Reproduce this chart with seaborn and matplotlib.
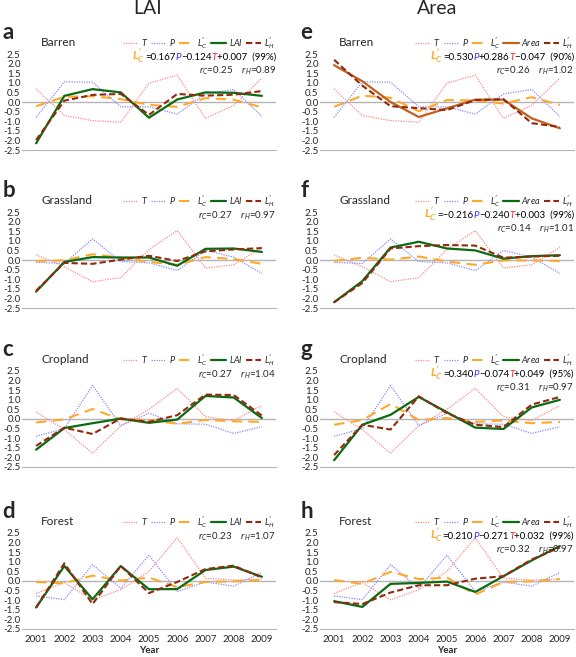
import numpy as np
import matplotlib
matplotlib.use('Agg')
import matplotlib.pyplot as plt
import seaborn as sns

sns.set_style('white')
plt.rcParams['font.family'] = ['Lato', 'DejaVu Sans']
plt.rcParams['mathtext.fontset'] = 'custom'
plt.rcParams['mathtext.rm'] = 'Lato'
plt.rcParams['mathtext.it'] = 'Lato:italic'
plt.rcParams['mathtext.bf'] = 'Lato:bold:italic'

# years on the x axis
years = [2001, 2002, 2003, 2004, 2005, 2006, 2007, 2008, 2009]

# climate series (same in both columns)
T_barren = [0.68, -0.70, -0.97, -1.05, 0.98, 1.40, -0.85, -0.18, 1.25]
P_barren = [-0.80, 1.05, 1.03, -0.25, -0.25, -0.63, 0.42, 0.65, -0.75]
T_grass = [0.27, -0.35, -1.13, -0.92, 0.55, 1.53, -0.42, -0.25, 0.66]
P_grass = [-0.12, -0.18, 1.10, -0.08, -0.15, -0.55, 0.50, 0.15, -0.70]
T_crop = [0.37, -0.55, -1.78, -0.35, 0.50, 1.60, 0.12, -0.08, 0.70]
P_crop = [-0.90, -0.50, 1.75, -0.35, 0.30, -0.25, -0.27, -0.75, -0.40]
T_forest = [-0.65, -0.08, -0.98, -0.45, 0.50, 2.25, 0.15, 0.05, 0.10]
P_forest = [-0.78, -0.97, 0.85, -0.38, 1.35, -0.55, -0.05, -0.27, 0.45]

# LAI column
lc_lai_barren = [-0.22, 0.27, 0.30, 0.15, -0.15, -0.25, 0.20, 0.12, -0.28]
lai_barren = [-2.15, 0.32, 0.67, 0.50, -0.82, 0.13, 0.50, 0.48, 0.32]
lh_lai_barren = [-1.98, 0.07, 0.37, 0.42, -0.67, 0.42, 0.33, 0.38, 0.57]
lc_lai_grass = [-0.05, -0.02, 0.30, 0.12, -0.10, -0.25, 0.15, 0.05, -0.20]
lai_grass = [-1.65, -0.10, 0.15, 0.13, 0.13, -0.30, 0.58, 0.60, 0.42]
lh_lai_grass = [-1.60, -0.15, -0.20, 0.02, 0.22, -0.05, 0.45, 0.55, 0.62]
lc_lai_crop = [-0.18, -0.02, 0.52, -0.02, -0.05, -0.25, -0.05, -0.12, -0.15]
lai_crop = [-1.60, -0.47, -0.22, 0.02, -0.20, -0.03, 1.20, 1.12, 0.05]
lh_lai_crop = [-1.40, -0.45, -0.78, 0.03, -0.15, 0.20, 1.27, 1.25, 0.18]
lc_lai_forest = [-0.05, -0.12, 0.28, 0.02, 0.18, -0.32, -0.05, -0.02, 0.05]
lai_forest = [-1.38, 0.78, -0.95, 0.78, -0.43, -0.42, 0.57, 0.75, 0.22]
lh_lai_forest = [-1.38, 0.92, -1.20, 0.78, -0.63, -0.05, 0.62, 0.80, 0.18]

# Area column
lc_area_barren = [-0.25, 0.33, 0.22, -0.48, 0.10, 0.08, -0.08, 0.25, -0.15]
area_barren = [1.92, 1.08, 0.00, -0.78, -0.33, 0.12, 0.12, -0.85, -1.37]
lh_area_barren = [2.20, 0.85, -0.22, -0.32, -0.42, 0.10, 0.15, -1.10, -1.30]
lc_area_grass = [-0.05, 0.12, 0.02, 0.18, -0.08, -0.25, -0.02, -0.02, -0.05]
area_grass = [-2.20, -1.10, 0.65, 0.95, 0.60, 0.50, 0.07, 0.20, 0.25]
lh_area_grass = [-2.20, -1.20, 0.60, 0.72, 0.78, 0.75, 0.12, 0.18, 0.22]
lc_area_crop = [-0.30, -0.05, 0.78, -0.05, 0.05, -0.15, -0.08, -0.22, -0.15]
area_crop = [-2.15, -0.30, 0.22, 1.15, 0.35, -0.45, -0.52, 0.60, 1.00]
lh_area_crop = [-1.88, -0.30, -0.55, 1.18, 0.30, -0.30, -0.42, 0.75, 1.15]
lc_area_forest = [0.05, -0.15, 0.48, 0.10, 0.18, -0.70, -0.05, -0.02, 0.10]
area_forest = [-1.05, -1.35, -0.15, -0.10, -0.03, -0.57, 0.25, 1.07, 1.82]
lh_area_forest = [-1.10, -1.20, -0.60, -0.22, -0.22, 0.12, 0.25, 1.12, 1.75]

cover_names = ['Barren', 'Grassland', 'Cropland', 'Forest']
r_lai = [(0.25, 0.89), (0.27, 0.97), (0.27, 1.04), (0.23, 1.07)]
r_area = [(0.26, 1.02), (0.14, 1.01), (0.31, 0.97), (0.32, 0.97)]
# regression coefficients of L'_C (P, T, const, significance); None = not shown
eq_lai = [('0.167', '\u22120.124', '+0.007', '99%'), None, None, None]
eq_area = [('0.530', '+0.286', '\u22120.047', '90%'),
           ('\u22120.216', '\u22120.240', '+0.003', '99%'),
           ('0.340', '\u22120.074', '+0.049', '95%'),
           ('0.210', '\u22120.271', '+0.032', '99%')]

climate = [(T_barren, P_barren), (T_grass, P_grass), (T_crop, P_crop), (T_forest, P_forest)]
lai_sets = [(lc_lai_barren, lai_barren, lh_lai_barren), (lc_lai_grass, lai_grass, lh_lai_grass),
            (lc_lai_crop, lai_crop, lh_lai_crop), (lc_lai_forest, lai_forest, lh_lai_forest)]
area_sets = [(lc_area_barren, area_barren, lh_area_barren), (lc_area_grass, area_grass, lh_area_grass),
             (lc_area_crop, area_crop, lh_area_crop), (lc_area_forest, area_forest, lh_area_forest)]

c_T = '#ff8a8a'
c_P = '#8a8aff'
c_LC = '#ffa82a'
c_green = '#0b6b12'
c_brown = '#c2601e'
c_LH = '#92290e'

W, H = 576, 657
fig = plt.figure(figsize=(W / 100, H / 100), dpi=100)


def add_eq(ax, y, pieces):
    # chain coloured text pieces from right to left
    prev = None
    for s, col, sty in reversed(pieces):
        if prev is None:
            prev = ax.annotate(s, xy=(1.0, y), xycoords='axes fraction', ha='right',
                               va='baseline', color=col, fontsize=7, fontstyle=sty)
        elif s.startswith('$'):
            prev = ax.annotate(s, xy=(0, 0), xycoords=prev, xytext=(0, -2.5),
                               textcoords='offset points', ha='right', va='bottom',
                               color=col, fontsize=8.5)
        else:
            prev = ax.annotate(s, xy=(0, 0), xycoords=prev, ha='right', va='bottom',
                               color=col, fontsize=7, fontstyle=sty)


def draw_panel(ax, T, P, LC, Y, LH, yname, ycolor, name, rr, eq, letter, bottom):
    sns.lineplot(x=years, y=T, ax=ax, color=c_T, lw=0.9, linestyle=(0, (1, 1)), label='$T$')
    sns.lineplot(x=years, y=P, ax=ax, color=c_P, lw=0.9, linestyle=(0, (1, 1)), label='$P$')
    sns.lineplot(x=years, y=LC, ax=ax, color=c_LC, lw=1.5, linestyle=(0, (5, 3)),
                 label="$L^{\\prime}_{C}$")
    sns.lineplot(x=years, y=Y, ax=ax, color=ycolor, lw=1.6, label=yname)
    sns.lineplot(x=years, y=LH, ax=ax, color=c_LH, lw=1.5, linestyle=(0, (3, 1.5)),
                 label="$L^{\\prime}_{H}$")
    ax.axhline(0, color='#b4b4b4', lw=1.0, zorder=0)
    ax.set_xlim(2000.5, 2009.5)
    ax.set_ylim(-2.5, 2.5)
    ax.set_yticks(np.arange(-2.5, 2.51, 0.5))
    ax.set_yticklabels(['%.1f' % v for v in np.arange(-2.5, 2.51, 0.5)])
    ax.set_xticks(years)
    ax.set_xticks(np.arange(2000.5, 2010, 1.0), minor=True)
    ax.tick_params(axis='x', which='major', length=0, labelsize=7, pad=4)
    ax.tick_params(axis='x', which='minor', length=3, color='#b4b4b4', width=0.8, direction='out')
    ax.tick_params(axis='y', length=0, labelsize=7, pad=1)
    if not bottom:
        ax.set_xticklabels([])
    else:
        ax.set_xlabel('Year', fontsize=7, fontweight='bold', labelpad=2)
    ax.set_ylabel('')
    for s in ['top', 'right', 'left']:
        ax.spines[s].set_visible(False)
    ax.spines['bottom'].set_color('#b4b4b4')
    ax.spines['bottom'].set_linewidth(0.8)

    ax.legend(loc='center right', bbox_to_anchor=(0.995, 1.115), ncol=5, frameon=False,
              fontsize=6.5, handlelength=1.7, handletextpad=0.3, columnspacing=0.35,
              borderaxespad=0, borderpad=0)
    ax.text(0.075, 1.115, name, transform=ax.transAxes, fontsize=8.5, ha='left', va='center')
    ax.text(-0.078, 1.22, letter, transform=ax.transAxes, fontsize=16, fontweight='bold',
            ha='left', va='center')
    r_text = '$r_C$=%.2f    $r_H$=%.2f' % rr
    if eq is None:
        ax.annotate(r_text, xy=(1.0, 0.96), xycoords='axes fraction', ha='right', va='center',
                    fontsize=7)
    else:
        pieces = [("$\\mathbf{L^{\\prime}_{C}}$", c_LC, 'normal'), ('=' + eq[0], 'black', 'normal'),
                  ('P', '#3333ff', 'italic'), (eq[1], 'black', 'normal'),
                  ('T', '#ff2020', 'italic'),
                  (eq[2] + '  (' + eq[3] + ')', 'black', 'normal')]
        add_eq(ax, 0.94, pieces)
        ax.annotate(r_text, xy=(1.0, 0.83), xycoords='axes fraction', ha='right',
                    va='center', fontsize=7)


tops = [54, 212, 371, 533]
ax_h = 96
letters_l = ['a', 'b', 'c', 'd']
letters_r = ['e', 'f', 'g', 'h']
for i in range(4):
    T, P = climate[i]
    bottom_frac = 1 - (tops[i] + ax_h) / H
    axl = fig.add_axes([22 / W, bottom_frac, 254 / W, ax_h / H])
    lc, y, lh = lai_sets[i]
    draw_panel(axl, T, P, lc, y, lh, '$LAI$', c_green, cover_names[i], r_lai[i], eq_lai[i],
               letters_l[i], i == 3)
    axr = fig.add_axes([320 / W, bottom_frac, 254 / W, ax_h / H])
    lc, y, lh = area_sets[i]
    draw_panel(axr, T, P, lc, y, lh, '$Area$', c_brown if i == 0 else c_green, cover_names[i],
               r_area[i], eq_area[i], letters_r[i], i == 3)

fig.text(148 / W, 1 - 9 / H, 'LAI', fontsize=14, ha='center', va='center')
fig.text(437 / W, 1 - 9 / H, 'Area', fontsize=14, ha='center', va='center')

fig.savefig('out.png', dpi=100)
